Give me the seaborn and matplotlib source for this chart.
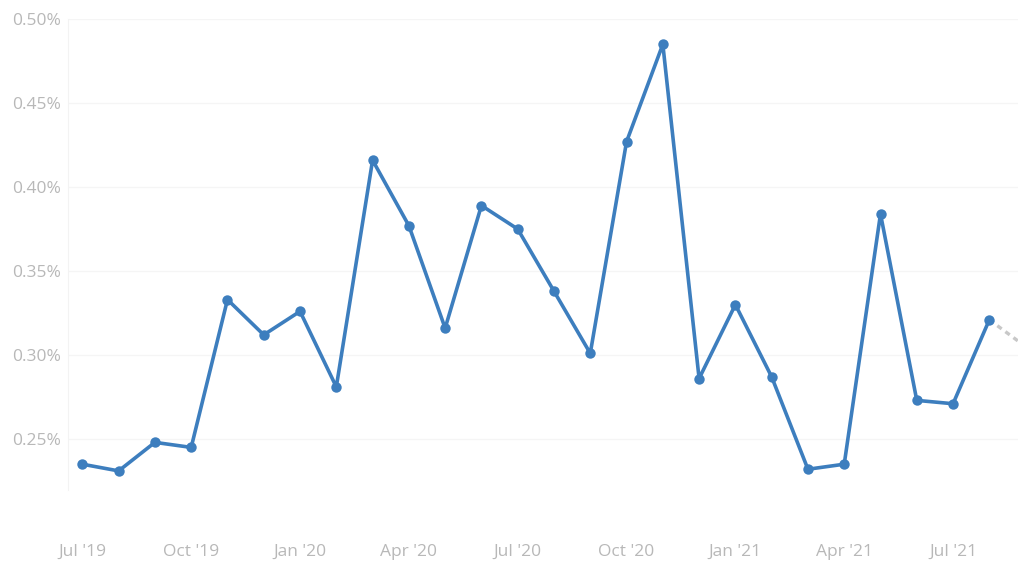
import numpy as np
import pandas as pd
import matplotlib
matplotlib.use("Agg")
import matplotlib.pyplot as plt
import seaborn as sns

# Monthly rate (%) from Jul 2019 to Aug 2021
months = ["2019-07", "2019-08", "2019-09", "2019-10", "2019-11", "2019-12",
          "2020-01", "2020-02", "2020-03", "2020-04", "2020-05", "2020-06",
          "2020-07", "2020-08", "2020-09", "2020-10", "2020-11", "2020-12",
          "2021-01", "2021-02", "2021-03", "2021-04", "2021-05", "2021-06",
          "2021-07", "2021-08"]
rate = [0.235, 0.231, 0.248, 0.245, 0.333, 0.312,
        0.326, 0.281, 0.416, 0.377, 0.316, 0.389,
        0.375, 0.338, 0.301, 0.427, 0.485, 0.286,
        0.330, 0.287, 0.232, 0.235, 0.384, 0.273,
        0.271, 0.321]
# Projected next month (dotted continuation)
forecast_months = ["2021-08", "2021-09"]
forecast_rate = [0.321, 0.305]

tick_months = ["2019-07", "2019-10", "2020-01", "2020-04", "2020-07",
               "2020-10", "2021-01", "2021-04", "2021-07"]
tick_labels = ["Jul '19", "Oct '19", "Jan '20", "Apr '20", "Jul '20",
               "Oct '20", "Jan '21", "Apr '21", "Jul '21"]
y_ticks = [0.25, 0.30, 0.35, 0.40, 0.45, 0.50]


def month_index(m):
    y, mo = map(int, m.split("-"))
    return (y - 2019) * 12 + (mo - 7)


df = pd.DataFrame({"x": [month_index(m) for m in months], "rate": rate})
fc = pd.DataFrame({"x": [month_index(m) for m in forecast_months], "rate": forecast_rate})

sns.set_style("white")
plt.rcParams["font.family"] = ["Open Sans", "DejaVu Sans"]

fig = plt.figure(figsize=(10.18, 5.62), dpi=100)
ax = fig.add_axes([0.067, 0.128, 0.933, 0.838])

line_color = "#3D7EBE"
sns.lineplot(data=fc, x="x", y="rate", ax=ax, color="#C8C8C8", lw=2.4,
             linestyle=(0, (1.6, 1.4)), zorder=2)
sns.lineplot(data=df, x="x", y="rate", ax=ax, color=line_color, lw=2.6,
             marker="o", markersize=7.5, markeredgewidth=0,
             markerfacecolor=line_color, zorder=3)

ax.set_xlim(-0.39, 25.79)
ax.set_ylim(0.2196, 0.50)
ax.set_yticks(y_ticks)
ax.set_yticklabels([f"{v:.2f}%" for v in y_ticks])
ax.set_xticks([month_index(m) for m in tick_months])
ax.set_xticklabels(tick_labels)

ax.grid(axis="y", color="#F5F5F5", lw=1)
ax.tick_params(axis="both", colors="#BDBDBD", labelcolor="#B8B8B8",
               labelsize=12.5, length=0)
ax.tick_params(axis="x", pad=39)
ax.tick_params(axis="y", pad=5)
for side in ["top", "right", "bottom"]:
    ax.spines[side].set_visible(False)
ax.spines["left"].set_color("#F3F3F3")
ax.set_xlabel("")
ax.set_ylabel("")

fig.savefig("out.png", dpi=100, facecolor="white")
